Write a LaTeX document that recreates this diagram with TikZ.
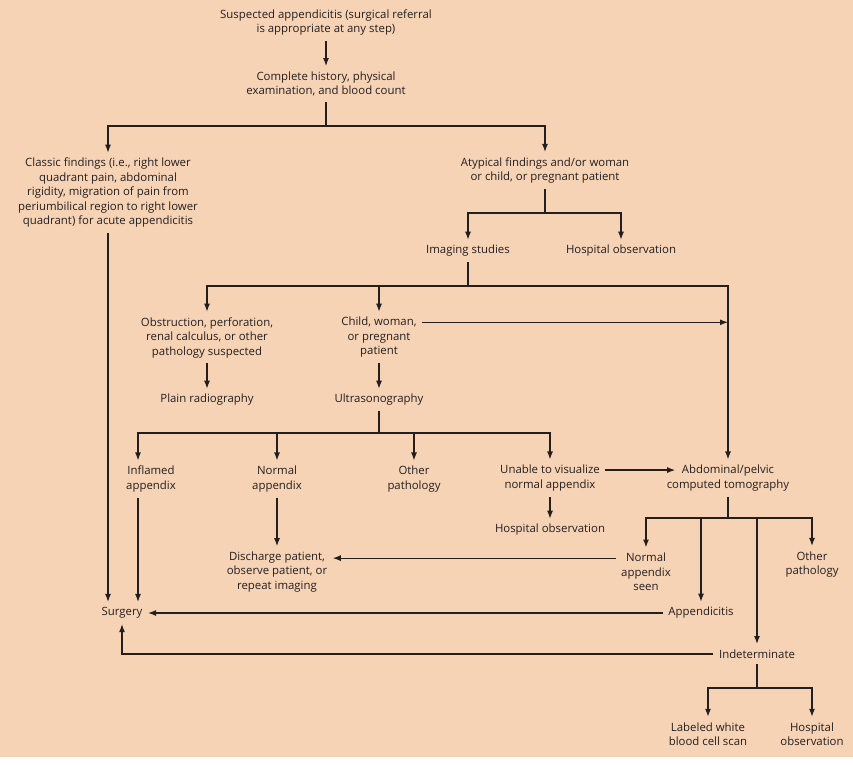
\documentclass[tikz,border=0pt]{standalone}
\usepackage{fontspec}
\setmainfont{Open Sans}
\usetikzlibrary{arrows.meta}
\definecolor{peach}{RGB}{247,211,181}
\definecolor{ink}{RGB}{35,31,32}

\begin{document}
\begin{tikzpicture}[x=1pt,y=1pt,
    color=ink, line width=1.2pt,
    box/.style={align=center, inner xsep=5pt, inner ysep=5pt,
      font=\fontsize{11.4}{14.5}\selectfont},
    arr/.style={-{Latex[length=8pt,width=6pt]}}
    ]
\useasboundingbox (0,0) rectangle (853,-764);
\fill[white] (0,0) rectangle (853,-764);
\fill[peach] (0,0) rectangle (853,-757);

\node[box] (S)   at (326,-22.3) {Suspected appendicitis (surgical referral\\is appropriate at any step)};
\node[box] (H)   at (326,-84)   {Complete history, physical\\examination, and blood count};
\node[box] (C)   at (108,-193)  {Classic findings (i.e., right lower\\quadrant pain, abdominal\\rigidity, migration of pain from\\periumbilical region to right lower\\quadrant) for acute appendicitis};
\node[box] (A)   at (545,-170.5) {Atypical findings and/or woman\\or child, or pregnant patient};
\node[box] (Im)  at (468,-251)  {Imaging studies};
\node[box] (Ho)  at (621,-251)  {Hospital observation};
\node[box] (Ob)  at (207,-337.5) {Obstruction, perforation,\\renal calculus, or other\\pathology suspected};
\node[box] (Ch)  at (379,-337.5) {Child, woman,\\or pregnant\\patient};
\node[box] (Pr)  at (207,-400)  {Plain radiography};
\node[box] (Us)  at (379,-400)  {Ultrasonography};
\node[box] (In)  at (151,-479)  {Inflamed\\appendix};
\node[box] (Na)  at (277,-479)  {Normal\\appendix};
\node[box] (Op)  at (414,-479)  {Other\\pathology};
\node[box] (Uv)  at (550,-478)  {Unable to visualize\\normal appendix};
\node[box] (Ct)  at (728,-478)  {Abdominal/pelvic\\computed tomography};
\node[box] (Ho2) at (550,-530)  {Hospital observation};
\node[box] (Dp)  at (277,-572)  {Discharge patient,\\observe patient, or\\repeat imaging};
\node[box] (Ns)  at (646,-572)  {Normal\\appendix\\seen};
\node[box] (Op2) at (812,-564.5) {Other\\pathology};
\node[box] (Su)  at (122,-613)  {Surgery};
\node[box] (Ap)  at (701,-613)  {Appendicitis};
\node[box] (Id)  at (757,-654)  {Indeterminate};
\node[box] (Lw)  at (708,-734)  {Labeled white\\blood cell scan};
\node[box] (Ho3) at (812,-734)  {Hospital\\observation};

\coordinate (b1) at (326,-126);
\coordinate (b2) at (545,-213);
\coordinate (b3) at (468,-286);
\coordinate (b4) at (379,-433);
\coordinate (b5) at (728,-518);
\coordinate (b6) at (757,-688);
\coordinate (ch1) at ([yshift=-10.6pt]Ch.north east);
\coordinate (uv1) at ([yshift=-10.6pt]Uv.north east);
\coordinate (ct1) at ([xshift=14pt,yshift=-10.6pt]Ct.north west);
\coordinate (ns1) at ([yshift=-10.6pt]Ns.north west);
\coordinate (in1) at ([xshift=-13pt]In.north);
\coordinate (in2) at ([xshift=-13pt]In.south);

\draw[arr] (S) -- (H);
\draw (H) -- (b1);
\draw[arr] (b1) -| (C);
\draw[arr] (b1) -| (A);
\draw[arr] (C) -- (C |- Su.north);
\draw (A) -- (b2);
\draw[arr] (b2) -| (Im);
\draw[arr] (b2) -| (Ho);
\draw (Im) -- (b3);
\draw[arr] (b3) -| (Ob);
\draw[arr] (b3) -| (Ch);
\draw[arr] (b3) -| (Ct);
\draw[arr] (ch1) -- (ch1 -| Ct);
\draw[arr] (Ob) -- (Pr);
\draw[arr] (Ch) -- (Us);
\draw (Us) -- (b4);
\draw[arr] (b4) -| (in1);
\draw[arr] (b4) -| (Na);
\draw[arr] (b4) -| (Op);
\draw[arr] (b4) -| (Uv);
\draw[arr] (in2) -- (in2 |- Su.north);
\draw[arr] (uv1) -- (uv1 -| ct1);
\draw[arr] (Uv) -- (Ho2);
\draw[arr] (Na) -- (Dp);
\draw (Ct) -- (b5);
\draw[arr] (b5) -| (Ns);
\draw[arr] (b5) -| (Ap);
\draw[arr] (b5) -| (Id);
\draw[arr] (b5) -| (Op2);
\draw[arr] (ns1) -- (ns1 -| Dp.east);
\draw[arr] (Ap) -- (Su);
\draw[arr] (Id) -| (Su);
\draw (Id) -- (b6);
\draw[arr] (b6) -| (Lw);
\draw[arr] (b6) -| (Ho3);
\end{tikzpicture}
\end{document}
